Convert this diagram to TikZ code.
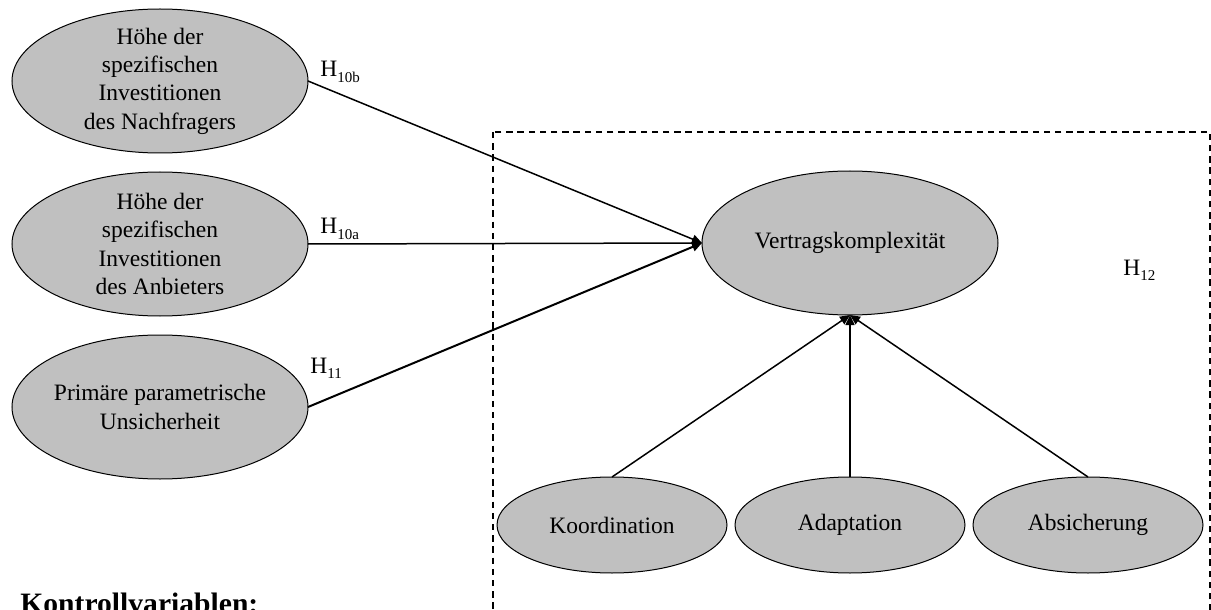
\documentclass[tikz,border=0pt]{standalone}
\usepackage{fontspec}
\setmainfont{Liberation Serif}
\usetikzlibrary{shapes.geometric,arrows.meta}

% hypothesis label: H with a lowered small index
\newcommand\hyplabel[1]{H\raisebox{-2.6pt}{\fontsize{7.5}{8}\selectfont #1}}

\tikzset{
  oval/.style={ellipse, draw=black, line width=0.5pt, fill=ovalgray,
               inner sep=0pt, outer sep=0pt},
  bigoval/.style={oval, minimum width=148pt, minimum height=72pt},
  smalloval/.style={oval, minimum width=115pt, minimum height=48pt},
  ovaltext/.style={align=center, inner sep=0pt, font=\fontsize{11.75}{14.2}\selectfont},
  hyp/.style={anchor=base west, inner sep=0pt, font=\fontsize{11.75}{14}\selectfont},
  effect/.style={draw=black, line width=0.75pt,
                 -{Triangle[length=5pt,width=4.5pt]}},
  groupbox/.style={draw=black, line width=0.55pt, dash pattern=on 3.2pt off 2.4pt}
}
\definecolor{ovalgray}{RGB}{192,192,192}

\begin{document}
\begin{tikzpicture}[x=0.5pt,y=-0.5pt]
  \useasboundingbox (0,0) rectangle (1211,610);
  \clip (0,0) rectangle (1211,610);

  % group of the contract dimensions
  \draw[groupbox] (493,132) rectangle (1210,640);

  % antecedents
  \node[bigoval] (nach) at (160,81) {};
  \node[ovaltext] (nachT) at (nach) {Höhe der\\spezifischen\\Investitionen\\des Nachfragers};

  \node[bigoval] (anb) at (160,244) {};
  \node[ovaltext] (anbT) at (anb) {Höhe der\\spezifischen\\Investitionen\\des Anbieters};

  \node[bigoval] (uns) at (160,407) {};
  \node[ovaltext] (unsT) at (uns) {Primäre parametrische\\Unsicherheit};

  % contract complexity and its dimensions
  \node[bigoval] (vk) at (850,243) {};
  \node[ovaltext] (vkT) at (vk) {Vertragskomplexität};

  \node[smalloval] (koo) at (612,525) {};
  \node[ovaltext] (kooT) at (koo) {Koordination};

  \node[smalloval] (ada) at (850,525) {};
  \node[ovaltext] (adaT) at (ada) {Adaptation};

  \node[smalloval] (abs) at (1088,525) {};
  \node[ovaltext] (absT) at (abs) {Absicherung};

  % effects
  \draw[effect] (nach.east) -- (vk.west);
  \draw[effect] (anb.east) -- (vk.west);
  \draw[effect, line width=1pt] (uns.east) -- (vk.west);
  \draw[effect] (koo.north) -- (vk.south);
  \draw[effect] (ada.north) -- (vk.south);
  \draw[effect] (abs.north) -- (vk.south);

  % hypothesis labels
  \node[hyp] (h10b) at (320,77) {\hyplabel{10b}};
  \node[hyp] (h10a) at (320,234) {\hyplabel{10a}};
  \node[hyp] (h11) at (310,373) {\hyplabel{11}};
  \node[hyp] (h12) at (1123,275) {\hyplabel{12}};

  % control variables heading
  \node[anchor=base west, inner sep=0pt, font=\bfseries\fontsize{14.8}{17}\selectfont]
    (kontr) at (20,613) {Kontrollvariablen:};
\end{tikzpicture}
\end{document}
